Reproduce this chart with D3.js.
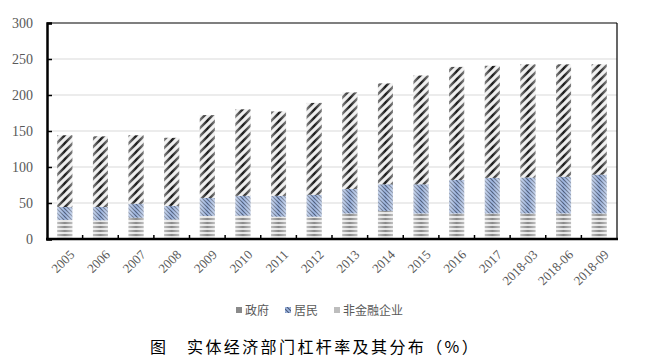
<!DOCTYPE html>
<html><head><meta charset="utf-8">
<script src="https://cdn.jsdelivr.net/npm/d3@7"></script>
<style>body{margin:0;background:#fff}</style>
</head><body>
<svg id="c" width="648" height="358"></svg>
<script>
const categories = ["2005","2006","2007","2008","2009","2010","2011","2012","2013","2014","2015","2016","2017","2018-03","2018-06","2018-09"];
const government = [26.5,26,29.5,27,32,32.5,31,31,35.5,39,35.5,35.5,35.5,35.5,35.5,35.5];
const household = [18,18.5,19.5,19,25,27.5,29,30.5,34,37,40.5,46.5,49.5,50,51,54];
const corporate = [99.5,98,95,94.5,115,120,117,127.5,134,140,151,157,155.5,157,156,153];
const seriesNames = ["政府","居民","非金融企业"];
const yTicks = [0,50,100,150,200,250,300];

const svg = d3.select("#c");
const L = 47, R = 617, T = 23, B = 239;
const x = d3.scaleBand().domain(categories).range([L, R]).paddingInner(0.58).paddingOuter(0.29);
const y = d3.scaleLinear().domain([0, 300]).range([B, T]);

const defs = svg.append("defs");
const pg = defs.append("pattern").attr("id","pGov").attr("patternUnits","userSpaceOnUse").attr("width",8).attr("height",4);
pg.append("rect").attr("width",8).attr("height",4).attr("fill","#e4e4e4");
pg.append("rect").attr("y",2).attr("width",8).attr("height",2).attr("fill","#8a8a8a");
const ph = defs.append("pattern").attr("id","pHh").attr("patternUnits","userSpaceOnUse").attr("width",4).attr("height",4);
ph.append("rect").attr("width",4).attr("height",4).attr("fill","#9db5e0");
ph.append("path").attr("d","M-1,-1 L5,5 M-1,3 L1,5 M3,-1 L5,1").attr("stroke","#4a5a78").attr("stroke-width",1.1);
const pc = defs.append("pattern").attr("id","pCorp").attr("patternUnits","userSpaceOnUse").attr("width",8).attr("height",8);
pc.append("rect").attr("width",8).attr("height",8).attr("fill","#ececec");
pc.append("path").attr("d","M-2,10 L10,-2 M-2,2 L2,-2 M6,10 L10,6").attr("stroke","#1a1a1a").attr("stroke-width",2.4);
const lg = defs.append("linearGradient").attr("id","shade").attr("x1","0").attr("x2","1").attr("y1","0").attr("y2","0");
lg.append("stop").attr("offset","0").attr("stop-color","#fff").attr("stop-opacity",0.45);
lg.append("stop").attr("offset","0.5").attr("stop-color","#fff").attr("stop-opacity",0);
lg.append("stop").attr("offset","1").attr("stop-color","#fff").attr("stop-opacity",0.45);

svg.append("g").selectAll("line").data(yTicks.filter(d=>d>0 && d<300)).join("line")
  .attr("x1",L).attr("x2",R).attr("y1",d=>y(d)).attr("y2",d=>y(d))
  .attr("stroke","#d9d9d9").attr("stroke-width",1);
svg.append("line").attr("x1",L).attr("x2",R).attr("y1",y(300)).attr("y2",y(300)).attr("stroke","#000").attr("stroke-width",1.2);
svg.append("line").attr("x1",R).attr("x2",R).attr("y1",y(300)).attr("y2",B).attr("stroke","#000").attr("stroke-width",1.2);

const stackData = categories.map((c,i)=>({cat:c, gov:government[i], hh:household[i], corp:corporate[i]}));
const stack = d3.stack().keys(["gov","hh","corp"])(stackData);
const fills = {gov:"url(#pGov)", hh:"url(#pHh)", corp:"url(#pCorp)"};
const gBars = svg.append("g");
stack.forEach(s=>{
  gBars.append("g").selectAll("rect").data(s).join("rect")
    .attr("x",d=>x(d.data.cat)).attr("width",x.bandwidth())
    .attr("y",d=>y(d[1])).attr("height",d=>y(d[0])-y(d[1]))
    .attr("fill",fills[s.key]);
  gBars.append("g").selectAll("rect").data(s).join("rect")
    .attr("x",d=>x(d.data.cat)).attr("width",x.bandwidth())
    .attr("y",d=>y(d[1])).attr("height",d=>y(d[0])-y(d[1]))
    .attr("fill","url(#shade)");
});

const yAxis = d3.axisLeft(y).tickValues(yTicks).tickSize(-5).tickPadding(14);
const ga = svg.append("g").attr("transform",`translate(${L},0)`).call(yAxis);
ga.select(".domain").attr("stroke","#000").attr("stroke-width",2.5);
ga.selectAll(".tick line").attr("stroke","#000").attr("stroke-width",1.5);
ga.selectAll("text").attr("font-family","'Liberation Serif', serif").attr("font-size",14).attr("fill","#595959");

const gx = svg.append("g").attr("transform",`translate(0,${B})`);
gx.append("line").attr("x1",L-1).attr("x2",R+1).attr("y1",0).attr("y2",0).attr("stroke","#000").attr("stroke-width",2.5);
const step = x.step();
const bounds = categories.slice(1).map(c=>x(c) - (step - x.bandwidth())/2);
gx.selectAll("line.tk").data(bounds).join("line").attr("class","tk")
  .attr("x1",d=>d).attr("x2",d=>d).attr("y1",0).attr("y2",-4).attr("stroke","#000").attr("stroke-width",1.5);
gx.selectAll("text").data(categories).join("text")
  .attr("transform",d=>`translate(${x(d)+x.bandwidth()/2+4},${10}) rotate(-45)`)
  .attr("text-anchor","end").attr("dy","0.7em")
  .attr("font-family","'Liberation Serif', serif").attr("font-size",13).attr("fill","#595959")
  .text(d=>d);

const legendX = [236, 285, 334];
const lgKeys = ["gov","hh","corp"];
const lgSw = {gov:"#8a8a8a", hh:"url(#pHh)", corp:"#bdbdbd"};
const leg = svg.append("g");
seriesNames.forEach((n,i)=>{
  leg.append("rect").attr("x",legendX[i]).attr("y",307).attr("width",6).attr("height",6).attr("fill",lgSw[lgKeys[i]]);
  leg.append("text").attr("x",legendX[i]+9).attr("y",315).attr("font-family","'Noto Sans CJK SC', sans-serif")
    .attr("font-size",12).attr("fill","#595959").text(n);
});

svg.append("text").attr("x",150).attr("y",353).attr("font-family","'Noto Sans CJK SC', sans-serif")
  .attr("font-size",16).attr("fill","#000").text("图");
svg.append("text").attr("x",187).attr("y",353).attr("font-family","'Noto Sans CJK SC', sans-serif")
  .attr("font-size",16).attr("letter-spacing","2.4px").attr("fill","#000").text("实体经济部门杠杆率及其分布（%）");
</script>
</body></html>
